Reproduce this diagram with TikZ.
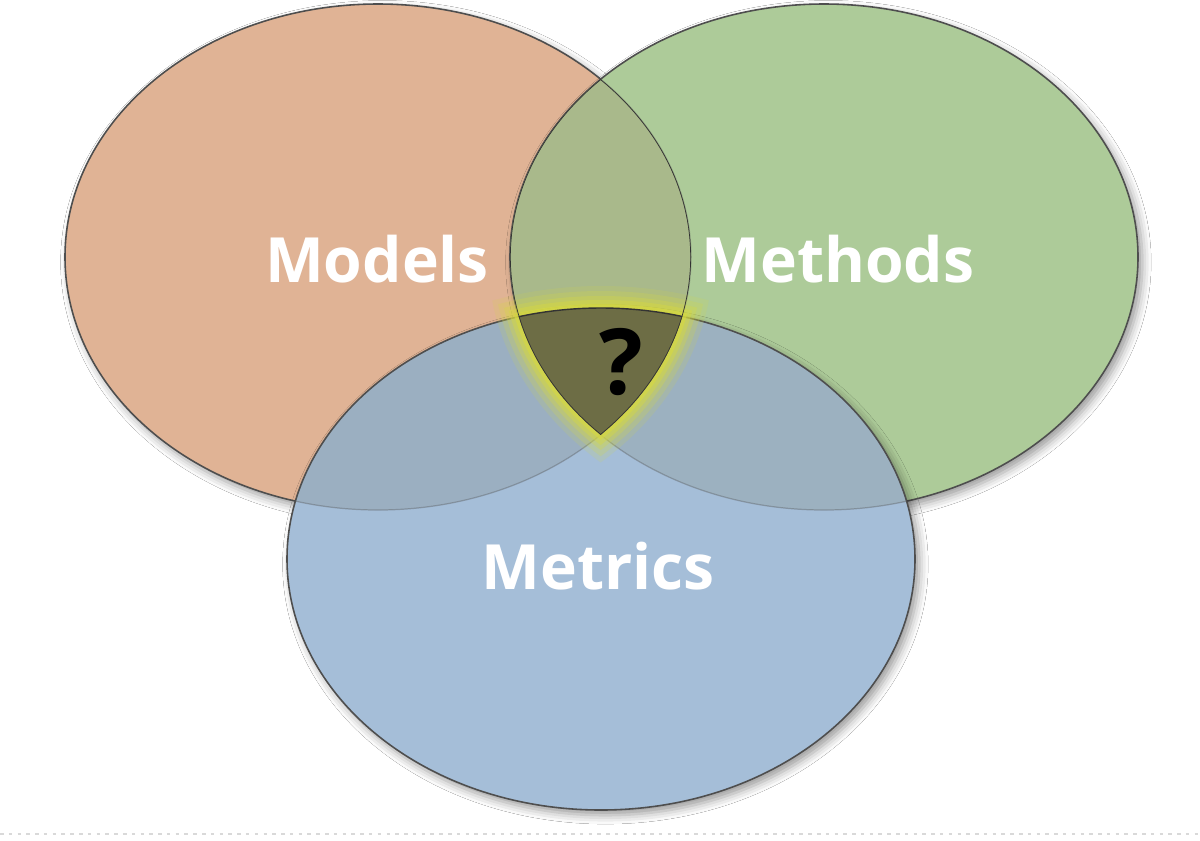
\documentclass[tikz,border=0pt]{standalone}
\usepackage{fontspec}
\newfontfamily\labfont{Open Sans}
\usetikzlibrary{shadows.blur}
\definecolor{modelsC}{HTML}{E0B395}
\definecolor{methodsC}{HTML}{ADCB99}
\definecolor{metricsC}{HTML}{A5BED8}
\definecolor{mmC}{HTML}{A9B98B}
\definecolor{moC}{HTML}{9BAFC1}
\definecolor{meC}{HTML}{9CB1C0}
\definecolor{triC}{HTML}{6D6D45}
\definecolor{glowC}{HTML}{D6D940}
\definecolor{edgeC}{HTML}{4E4E4E}
\tikzset{
  setshadow/.style={blur shadow={shadow xshift=2.5pt, shadow yshift=-3pt, shadow blur radius=5pt, shadow opacity=40}},
  outer edge/.style={draw=edgeC, line width=0.9pt},
  inner edge/.style={draw=edgeC, line width=0.7pt, draw opacity=0.35},
  lab/.style={font=\labfont\bfseries\fontsize{35.5}{42}\selectfont, text=white, inner sep=0pt},
  qmark/.style={font=\labfont\bfseries\fontsize{52}{60}\selectfont, text=black, inner sep=0pt}
}
\def\Mod{(378,257) ellipse [x radius=313, y radius=253]}
\def\Meth{(824,257) ellipse [x radius=314, y radius=253]}
\def\Met{(601,559) ellipse [x radius=314, y radius=251]}
\def\ModE#1{(378,257) ellipse [x radius=313+#1, y radius=253+#1]}
\def\MethE#1{(824,257) ellipse [x radius=314+#1, y radius=253+#1]}
\def\MetE#1{(601,559) ellipse [x radius=314+#1, y radius=251+#1]}
\begin{document}
\begin{tikzpicture}[x=0.02cm,y=-0.02cm]
\useasboundingbox (0,0) rectangle (1200,840);
\fill[white] (0,0) rectangle (1200,840);
% Models
\fill[modelsC, setshadow] \Mod;
\path[outer edge] \Mod;
% Methods
\fill[methodsC, setshadow] \Meth;
\path[outer edge] \Meth;
% Models & Methods overlap
\begin{scope}
  \clip \Mod;
  \fill[mmC] \Meth;
  \path[inner edge] \Meth;
\end{scope}
\begin{scope}
  \clip \Meth;
  \path[inner edge] \Mod;
\end{scope}
% Metrics
\fill[metricsC, setshadow] \Met;
\begin{scope}
  \clip \Met;
  \fill[moC] \Mod;
  \fill[meC] \Meth;
  \path[inner edge] \Mod;
  \path[inner edge] \Meth;
\end{scope}
\path[outer edge] \Met;
% glow around the triple overlap
\foreach \d/\o in {22/0.15, 17/0.22, 12/0.3, 8/0.42, 4/0.6} {
  \begin{scope}
    \clip \ModE{\d};
    \clip \MethE{\d};
    \fill[glowC, opacity=\o] \MetE{\d};
  \end{scope}
}
% triple overlap
\begin{scope}
  \clip \Mod;
  \clip \Meth;
  \fill[triC] \Met;
  \path[draw=black!80, line width=0.8pt] \Met;
  \path[draw=black!80, line width=0.8pt] \Mod;
  \path[draw=black!80, line width=0.8pt] \Meth;
\end{scope}
% labels
\node[lab] (models) at (377,259) {Models};
\node[lab] (methods) at (838,259) {Methods};
\node[lab] (metrics) at (598,566) {Metrics};
\node[qmark] (q) at (621,362) {?};
% faint dotted baseline
\coordinate (bl) at (0,834);
\coordinate (br) at (1200,834);
\draw[black!15, line width=0.8pt, dash pattern=on 2pt off 3pt] (bl) -- (br);
\end{tikzpicture}
\end{document}
